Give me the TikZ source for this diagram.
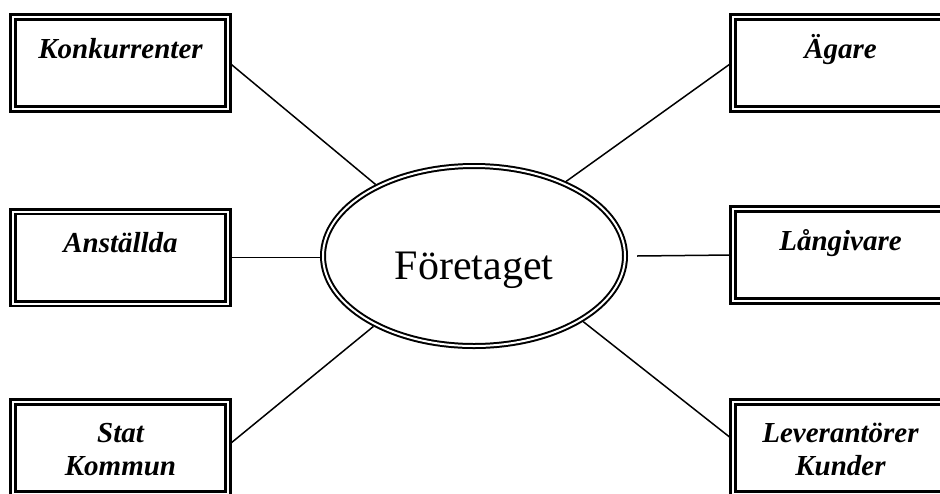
\documentclass[tikz,border=0pt]{standalone}
\usepackage{fontspec}
\setmainfont{Liberation Serif}
\usetikzlibrary{shapes.geometric}

\tikzset{
  ruta/.style={draw, double, line width=1.4pt, double distance=1pt,
    minimum width=107.7pt, minimum height=46pt, inner sep=0pt},
  rubrik/.style={anchor=base, align=center,
    font=\fontsize{14.5}{16.5}\selectfont\bfseries\itshape},
  linje/.style={line width=0.75pt}
}

\begin{document}
\begin{tikzpicture}[x=0.5pt, y=-0.5pt]
            \useasboundingbox (0,0) rectangle (940,493);
            \clip (0,0) rectangle (940,493);
            \node[ellipse, draw, double, line width=1pt, double distance=1pt,
              minimum width=151pt, minimum height=90pt, inner sep=0pt, outer sep=1.5pt] (ell) at (474,256) {};
            \node[anchor=base, font=\fontsize{21}{25}\selectfont] (firma) at ([yshift=-11.5pt]ell.center) {Företaget};
            \node[ruta] (konk) at (120.5,63) {};
            \node[rubrik] (konkText) at ([yshift=-21.5pt]konk.north) {Konkurrenter};
            \node[ruta] (agare) at (840.5,63) {};
            \node[rubrik] (agareText) at ([yshift=-21.5pt]agare.north) {Ägare};
            \node[ruta] (anst) at (120.5,257.5) {};
            \node[rubrik] (anstText) at ([yshift=-21pt]anst.north) {Anställda};
            \node[ruta] (lang) at (840.5,255) {};
            \node[rubrik] (langText) at ([yshift=-21.5pt]lang.north) {Långivare};
            \node[ruta] (stat) at (120.5,448) {};
            \node[rubrik] (statText) at ([yshift=-37.5pt]stat.north) {Stat\\Kommun};
            \node[ruta] (lev) at (840.5,448) {};
            \node[rubrik] (levText) at ([yshift=-37.5pt]lev.north) {Leverantörer\\Kunder};
            \draw[linje] (konk.east) -- (ell.144);
            \draw[linje] (agare.west) -- (ell.39);
            \draw[linje] (anst.east) -- (anst.east -| ell.west);
            \draw[linje] ([xshift=4.5pt]ell.east) -- (lang.west);
            \draw[linje] (stat.2) -- (ell.215);
            \draw[linje] (ell.329) -- (lev.175);
        \end{tikzpicture}
\end{document}
